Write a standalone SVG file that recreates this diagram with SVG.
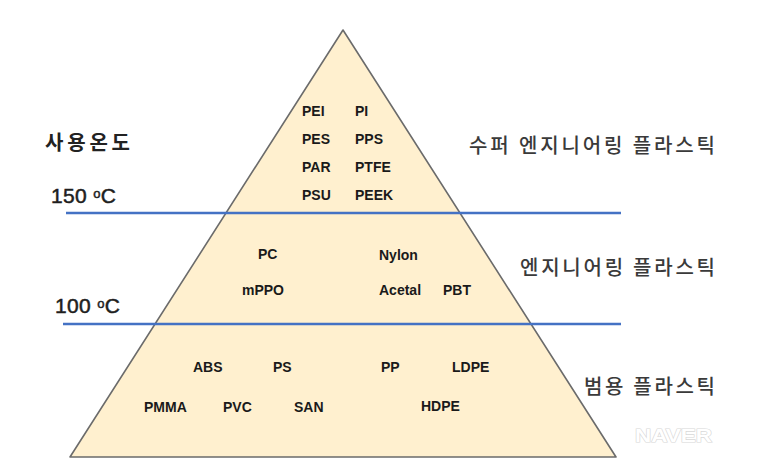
<svg xmlns="http://www.w3.org/2000/svg" width="766" height="467" viewBox="0 0 766 467">
<style>
.m{font-family:"Liberation Sans","Noto Sans",Arial,sans-serif;font-weight:bold;font-size:14px;fill:#1a1a1a}
.k{font-family:"Noto Sans CJK KR","Noto Sans",sans-serif;font-weight:500;font-size:20px;fill:#3a3a3a}
.t{font-family:"Liberation Sans","Noto Sans",Arial,sans-serif;font-size:21px;fill:#1e1e1e;stroke:#1e1e1e;stroke-width:0.5}
.deg{font-size:13px}
.sep{stroke:#4472C4;stroke-width:2.5;fill:none}
</style>
<rect width="766" height="467" fill="#ffffff"/>
<g id="pyramid">
<polygon points="343,30 616,457 70,457" fill="#FFF0CF" stroke="#6b6b6b" stroke-width="1.6" stroke-linejoin="round"/>
</g>
<g id="separators">
<line class="sep" x1="66" y1="213" x2="621" y2="213"/>
<line class="sep" x1="63" y1="324" x2="621" y2="324"/>
</g>
<g id="axis-labels">
<text x="45" y="150" style="font-family:'Noto Sans CJK KR',sans-serif;font-weight:bold;font-size:20px;fill:#222" textLength="85" lengthAdjust="spacing">사용온도</text>
<text class="t" x="51" y="203" textLength="65" lengthAdjust="spacing">150 <tspan class="deg" dy="-5">o</tspan><tspan dy="5">C</tspan></text>
<text class="t" x="55" y="313" textLength="65" lengthAdjust="spacing">100 <tspan class="deg" dy="-5">o</tspan><tspan dy="5">C</tspan></text>
</g>
<g id="tier-super">
<text class="m" x="302" y="116">PEI</text>
<text class="m" x="355" y="116">PI</text>
<text class="m" x="302" y="144">PES</text>
<text class="m" x="355" y="144">PPS</text>
<text class="m" x="302" y="172">PAR</text>
<text class="m" x="355" y="172">PTFE</text>
<text class="m" x="302" y="200">PSU</text>
<text class="m" x="355" y="200">PEEK</text>
<text class="k" x="469" y="153" textLength="246" lengthAdjust="spacing">수퍼 엔지니어링 플라스틱</text>
</g>
<g id="tier-engineering">
<text class="m" x="258" y="259">PC</text>
<text class="m" x="242" y="295">mPPO</text>
<text class="m" x="379" y="260">Nylon</text>
<text class="m" x="379" y="295">Acetal</text>
<text class="m" x="443" y="295">PBT</text>
<text class="k" x="520" y="275" textLength="195" lengthAdjust="spacing">엔지니어링 플라스틱</text>
</g>
<g id="tier-general">
<text class="m" x="193" y="372">ABS</text>
<text class="m" x="273" y="372">PS</text>
<text class="m" x="381" y="372">PP</text>
<text class="m" x="452" y="372">LDPE</text>
<text class="m" x="144" y="412">PMMA</text>
<text class="m" x="223" y="412">PVC</text>
<text class="m" x="294" y="412">SAN</text>
<text class="m" x="421" y="411">HDPE</text>
<text class="k" x="584" y="394" textLength="131" lengthAdjust="spacing">범용 플라스틱</text>
</g>
<g id="watermark">
<text x="635" y="442" textLength="77" lengthAdjust="spacingAndGlyphs" style="font-family:'Liberation Sans',Arial,sans-serif;font-weight:bold;font-size:19px;fill:#ffffff;stroke:#d8d8d8;stroke-width:1.2;paint-order:stroke">NAVER</text>
</g>
</svg>
